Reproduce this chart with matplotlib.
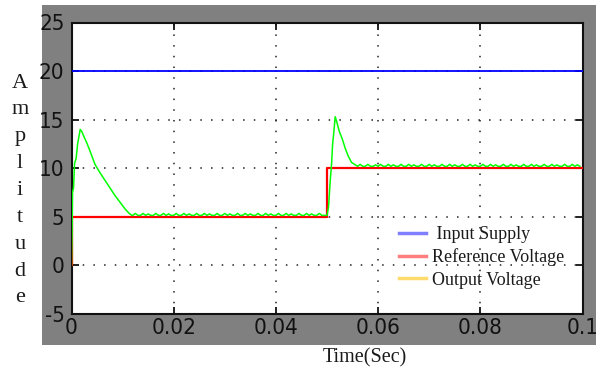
import numpy as np
import matplotlib
matplotlib.use("Agg")
import matplotlib.pyplot as plt
from matplotlib.lines import Line2D
from matplotlib import font_manager as fm

plt.rcParams["axes.unicode_minus"] = False

# ---------------- data ----------------
t_end = 0.1
input_supply = 20.0
ref_t = [0.0, 0.0, 0.05, 0.05, 0.1]
ref_v = [0.0, 5.0, 5.0, 10.0, 10.0]

# output voltage: start-up transient
out1_t = [0.0, 0.0001, 0.0002, 0.0004, 0.0006, 0.0009, 0.0012, 0.0017, 0.0020,
          0.0024, 0.0030, 0.0036, 0.0041, 0.0046, 0.0055, 0.0065, 0.0075,
          0.0085, 0.0095, 0.0105, 0.0112, 0.0118]
out1_v = [0.0, 3.0, 7.5, 8.0, 10.5, 11.0, 12.5, 14.0, 13.8,
          13.3, 12.6, 11.8, 11.1, 10.4, 9.6, 8.8, 8.0,
          7.2, 6.5, 5.8, 5.4, 5.15]
# ripple after first settling (0.012 .. 0.0495 step 0.0005)
ripple1 = [5.15, 5.35, 5.15, 5.15, 5.35, 5.15, 5.3, 5.15, 5.15, 5.35,
           5.15, 5.15, 5.35, 5.15, 5.3, 5.15, 5.15, 5.35, 5.15, 5.15,
           5.35, 5.15, 5.3, 5.15, 5.15, 5.35, 5.15, 5.15, 5.35, 5.15,
           5.3, 5.15, 5.15, 5.35, 5.15, 5.15, 5.35, 5.15, 5.3, 5.15,
           5.15, 5.35, 5.15, 5.15, 5.35, 5.15, 5.3, 5.15, 5.15, 5.35,
           5.15, 5.15, 5.35, 5.15, 5.3, 5.15, 5.15, 5.35, 5.15, 5.15,
           5.35, 5.15, 5.3, 5.15, 5.15, 5.35, 5.15, 5.15, 5.35, 5.15,
           5.3, 5.15, 5.15, 5.35, 5.15, 5.15]
# step-change transient
out2_t = [0.0500, 0.0503, 0.0506, 0.0509, 0.0511, 0.0513, 0.0516, 0.0519,
          0.0524, 0.0530, 0.0536, 0.0542, 0.0548, 0.0557]
out2_v = [5.15, 6.0, 8.5, 10.5, 12.5, 13.5, 15.3, 14.8,
          13.8, 13.0, 12.0, 11.2, 10.6, 10.3]
# ripple after second settling (0.056 .. 0.0995 step 0.0005)
ripple2 = [10.2, 10.4, 10.2, 10.2, 10.4, 10.2, 10.2, 10.35, 10.2, 10.4,
           10.2, 10.2, 10.4, 10.2, 10.35, 10.2, 10.2, 10.4, 10.2, 10.2,
           10.4, 10.2, 10.35, 10.2, 10.2, 10.4, 10.2, 10.2, 10.4, 10.2,
           10.35, 10.2, 10.2, 10.4, 10.2, 10.2, 10.4, 10.2, 10.35, 10.2,
           10.2, 10.4, 10.2, 10.2, 10.4, 10.2, 10.35, 10.2, 10.2, 10.4,
           10.2, 10.2, 10.4, 10.2, 10.35, 10.2, 10.2, 10.4, 10.2, 10.2,
           10.4, 10.2, 10.35, 10.2, 10.2, 10.4, 10.2, 10.2, 10.4, 10.2,
           10.35, 10.2, 10.2, 10.4, 10.2, 10.2, 10.4, 10.2, 10.35, 10.2,
           10.2, 10.4, 10.2, 10.2, 10.4, 10.2, 10.35, 10.2]

x_ticks = [0, 0.02, 0.04, 0.06, 0.08, 0.1]
x_tick_labels = ["0", "0.02", "0.04", "0.06", "0.08", "0.1"]
y_ticks = [-5, 0, 5, 10, 15, 20, 25]
legend_labels = [" Input Supply", "Reference Voltage", "Output Voltage"]
ylabel = "Amplitude"
xlabel = "Time(Sec)"

r1_t = 0.012 + 0.0005 * np.arange(len(ripple1))
r2_t = 0.056 + 0.0005 * np.arange(len(ripple2))
out_t = np.concatenate([out1_t, r1_t, out2_t, r2_t])
out_v = np.concatenate([out1_v, ripple1, out2_v, ripple2])

# pick a narrow upright font for tick labels if one exists
names = {f.name for f in fm.fontManager.ttflist}
cond = [f for f in fm.fontManager.ttflist
        if f.name == "DejaVu Sans" and "ondensed" in str(f.fname)
        and f.style == "normal" and "Oblique" not in str(f.fname)
        and "Bold" not in str(f.fname)]
if "Liberation Sans Narrow" in names:
    tick_fp = dict(family="Liberation Sans Narrow", size=16)
elif cond:
    tick_fp = dict(fname=cond[0].fname, size=16)
else:
    tick_fp = dict(family="Liberation Sans", size=14)

# ---------------- figure ----------------
W, H = 596, 375
fig = plt.figure(figsize=(W / 100, H / 100), dpi=100)
fig.patch.set_facecolor("white")

# gray panel (background axes)
bg = fig.add_axes([42 / W, 1 - 345 / H, 1 - 42 / W, (345 - 5) / H], zorder=-5)
bg.set_facecolor("#808080")
bg.set_xticks([])
bg.set_yticks([])
for s in bg.spines.values():
    s.set_visible(False)

ax_l, ax_r, ax_t, ax_b = 71.5, 582.5, 22.5, 314.0
ax = fig.add_axes([ax_l / W, 1 - ax_b / H, (ax_r - ax_l) / W, (ax_b - ax_t) / H], zorder=1)
ax.set_facecolor("white")

ax.axhline(input_supply, color="#0000ff", lw=1.3, zorder=3)
ax.plot(ref_t, ref_v, color="#ff0000", lw=1.6, zorder=3)
ax.plot(out_t, out_v, color="#00ff00", lw=1.1, zorder=4)

ax.set_xlim(0, t_end)
ax.set_ylim(-5, 25)
ax.set_xticks(x_ticks)
ax.set_xticklabels(x_tick_labels)
ax.set_yticks(y_ticks)

fp = fm.FontProperties(**tick_fp)
for lab in ax.get_xticklabels() + ax.get_yticklabels():
    lab.set_fontproperties(fp)
    lab.set_color("#111111")

ax.tick_params(direction="in", length=5, width=1.3, top=True, right=True,
               pad=3, colors="#111111")
ax.tick_params(axis="y", pad=5)
for s in ax.spines.values():
    s.set_linewidth(1.5)
    s.set_color("#111111")

ax.grid(True, color="#222222", linestyle=(0, (1, 6)), linewidth=1.1)
ax.set_axisbelow(True)

handles = [Line2D([], [], color="#8080ff", lw=2.5),
           Line2D([], [], color="#ff7f7f", lw=2.5),
           Line2D([], [], color="#ffdb6e", lw=2.5)]
leg = ax.legend(handles, legend_labels, loc="upper left",
                bbox_to_anchor=((390 - ax_l) / (ax_r - ax_l), (ax_b - 217) / (ax_b - ax_t)),
                frameon=False, borderpad=0, handlelength=1.5, handletextpad=0.3,
                labelspacing=0.3, prop={"family": "Liberation Serif", "size": 13})
for txt in leg.get_texts():
    txt.set_color("#1a1a1a")

# stacked y label
letters = list(ylabel)
y0, y1 = 83, 298
for i, ch in enumerate(letters):
    yy = y0 + (y1 - y0) * i / (len(letters) - 1)
    fig.text(20 / W, 1 - yy / H, ch, ha="center", va="center",
             family="Liberation Serif", fontsize=16, color="#1a1a1a")

fig.text(365 / W, 1 - 358 / H, xlabel, ha="center", va="center",
         family="Liberation Serif", fontsize=14.5, color="#1a1a1a")

fig.savefig("out.png", dpi=100)
